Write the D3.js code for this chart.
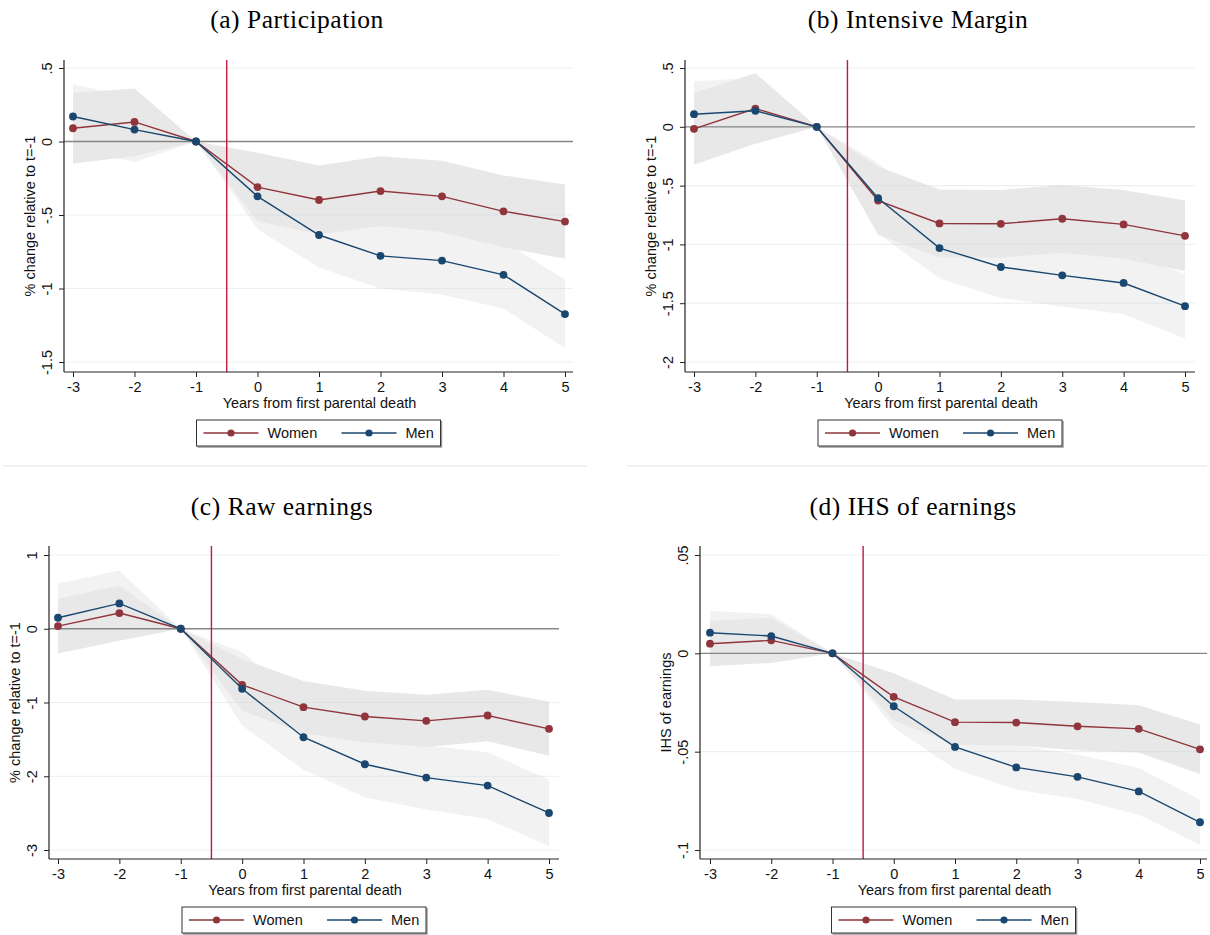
<!DOCTYPE html>
<meta charset="utf-8">
<style>
    body { margin: 0; background: #fff; }
    text { font-family: "Liberation Sans", Arial, sans-serif; fill: #111; }
    .title { font-family: "Liberation Serif", serif; font-size: 25.5px; letter-spacing: 0.5px; fill: #000; }
    .tick text { font-size: 14.5px; }
</style>
<svg width="1210" height="935"></svg>
<script src="https://d3js.org/d3.v7.min.js"></script>
<script>

    var years = [-3, -2, -1, 0, 1, 2, 3, 4, 5];

    // (a) Participation
    var partWomen   = [0.09, 0.133, 0, -0.31, -0.398, -0.337, -0.373, -0.475, -0.545];
    var partWomenLo = [-0.15, -0.10, 0, -0.543, -0.633, -0.574, -0.615, -0.719, -0.798];
    var partWomenHi = [0.33, 0.36, 0, -0.077, -0.163, -0.10, -0.131, -0.231, -0.292];
    var partMen     = [0.17, 0.081, 0, -0.373, -0.636, -0.778, -0.81, -0.907, -1.174];
    var partMenLo   = [-0.05, -0.14, 0, -0.597, -0.857, -1.0, -1.043, -1.136, -1.407];
    var partMenHi   = [0.39, 0.30, 0, -0.149, -0.415, -0.556, -0.577, -0.678, -0.941];
    var partTicks   = [0.5, 0, -0.5, -1, -1.5];

    // (b) Intensive margin
    var intWomen   = [-0.017, 0.155, 0, -0.627, -0.822, -0.825, -0.782, -0.83, -0.927];
    var intWomenLo = [-0.322, -0.145, 0, -0.917, -1.11, -1.113, -1.07, -1.123, -1.227];
    var intWomenHi = [0.288, 0.455, 0, -0.337, -0.534, -0.537, -0.494, -0.537, -0.627];
    var intMen     = [0.107, 0.136, 0, -0.607, -1.031, -1.192, -1.263, -1.328, -1.525];
    var intMenLo   = [-0.173, -0.144, 0, -0.907, -1.291, -1.455, -1.531, -1.593, -1.8];
    var intMenHi   = [0.387, 0.416, 0, -0.307, -0.771, -0.929, -0.995, -1.063, -1.25];
    var intTicks   = [0.5, 0, -0.5, -1, -1.5, -2];

    // (c) Raw earnings
    var rawWomen   = [0.036, 0.213, 0, -0.76, -1.063, -1.19, -1.249, -1.176, -1.357];
    var rawWomenLo = [-0.334, -0.162, 0, -1.11, -1.416, -1.538, -1.602, -1.524, -1.723];
    var rawWomenHi = [0.406, 0.588, 0, -0.41, -0.71, -0.842, -0.896, -0.828, -0.991];
    var rawMen     = [0.149, 0.344, 0, -0.814, -1.471, -1.837, -2.018, -2.127, -2.498];
    var rawMenLo   = [-0.317, -0.102, 0, -1.314, -1.911, -2.285, -2.452, -2.579, -2.95];
    var rawMenHi   = [0.615, 0.79, 0, -0.314, -1.031, -1.389, -1.584, -1.675, -2.046];
    var rawTicks   = [1, 0, -1, -2, -3];

    // (d) IHS of earnings
    var ihsWomen   = [0.0049, 0.0066, 0, -0.0221, -0.035, -0.0352, -0.0371, -0.0384, -0.0488];
    var ihsWomenLo = [-0.0066, -0.0049, 0, -0.0341, -0.0465, -0.0469, -0.0494, -0.0504, -0.0614];
    var ihsWomenHi = [0.0164, 0.0181, 0, -0.0101, -0.0235, -0.0235, -0.0248, -0.0264, -0.0362];
    var ihsMen     = [0.0105, 0.0088, 0, -0.0269, -0.0476, -0.058, -0.0628, -0.0702, -0.0859];
    var ihsMenLo   = [-0.0006, -0.0023, 0, -0.0379, -0.0588, -0.0694, -0.0741, -0.0821, -0.0974];
    var ihsMenHi   = [0.0216, 0.0199, 0, -0.0159, -0.0364, -0.0466, -0.0515, -0.0583, -0.0744];
    var ihsTicks   = [0.05, 0, -0.05, -0.1];

    var womenColor = "#90353b",
        menColor = "#1a476f";

    var svg = d3.select("svg");

    // Stata style: plain hyphen, no leading zero
    function fmt(v) {
        return v === 0 ? "0" : String(v).replace("0.", ".");
    }

    var panels = [
        {title: "(a)", name: "Participation", ytitle: "% change relative to t=-1",
         women: partWomen, womenLo: partWomenLo, womenHi: partWomenHi,
         men: partMen, menLo: partMenLo, menHi: partMenHi, ticks: partTicks,
         left: 64, right: 573, top: 60, bottom: 372, x0: 73, x1: 565, y0: 362, y1: 68, titleX: 297, titleY: 28},
        {title: "(b)", name: "Intensive Margin", ytitle: "% change relative to t=-1",
         women: intWomen, womenLo: intWomenLo, womenHi: intWomenHi,
         men: intMen, menLo: intMenLo, menHi: intMenHi, ticks: intTicks,
         left: 685, right: 1195, top: 60, bottom: 372, x0: 694, x1: 1185, y0: 362, y1: 68, titleX: 918, titleY: 28},
        {title: "(c)", name: "Raw earnings", ytitle: "% change relative to t=-1",
         women: rawWomen, womenLo: rawWomenLo, womenHi: rawWomenHi,
         men: rawMen, menLo: rawMenLo, menHi: rawMenHi, ticks: rawTicks,
         left: 49, right: 559, top: 546, bottom: 859, x0: 58, x1: 549, y0: 850, y1: 555, titleX: 282, titleY: 515},
        {title: "(d)", name: "IHS of earnings", ytitle: "IHS of earnings",
         women: ihsWomen, womenLo: ihsWomenLo, womenHi: ihsWomenHi,
         men: ihsMen, menLo: ihsMenLo, menHi: ihsMenHi, ticks: ihsTicks,
         left: 700, right: 1207, top: 546, bottom: 859, x0: 710, x1: 1200, y0: 850, y1: 555, titleX: 913, titleY: 515}
    ];

    // faint separators between the rows
    svg.append("line").attr("x1", 3).attr("x2", 587).attr("y1", 466).attr("y2", 466)
        .attr("stroke", "#ececec").attr("stroke-width", 1.5);
    svg.append("line").attr("x1", 627).attr("x2", 1207).attr("y1", 466).attr("y2", 466)
        .attr("stroke", "#ececec").attr("stroke-width", 1.5);

    panels.forEach(function (p) {
        var g = svg.append("g");

        var x = d3.scaleLinear().domain([-3, 5]).range([p.x0, p.x1]);
        var y = d3.scaleLinear()
            .domain([d3.min(p.ticks), d3.max(p.ticks)])
            .range([p.y0, p.y1]);

        // title
        var t = g.append("text").attr("class", "title")
            .attr("x", p.titleX).attr("y", p.titleY)
            .attr("text-anchor", "middle");
        t.append("tspan").text(p.title);
        t.append("tspan").attr("dx", 7).text(p.name);

        // bands
        var area = function (lo, hi) {
            return d3.area()
                .x(function (d, i) { return x(years[i]); })
                .y0(function (d, i) { return y(lo[i]); })
                .y1(function (d, i) { return y(hi[i]); })(years);
        };
        g.append("path").attr("d", area(p.menLo, p.menHi)).attr("fill", "#f2f2f2");
        g.append("path").attr("d", area(p.womenLo, p.womenHi)).attr("fill", "#e8e8e8");

        // grid
        g.append("g").selectAll("line")
            .data(p.ticks.filter(function (v) { return v !== 0; }))
            .enter().append("line")
            .attr("x1", p.left).attr("x2", p.right)
            .attr("y1", function (d) { return y(d); })
            .attr("y2", function (d) { return y(d); })
            .attr("stroke", "rgba(200,220,226,0.42)")
            .attr("stroke-width", 1.2);

        // zero line
        g.append("line")
            .attr("x1", p.left).attr("x2", p.right)
            .attr("y1", y(0)).attr("y2", y(0))
            .attr("stroke", "#858585").attr("stroke-width", 1.3);

        // event line
        g.append("line")
            .attr("x1", x(-0.5)).attr("x2", x(-0.5))
            .attr("y1", p.top).attr("y2", p.bottom)
            .attr("stroke", "#c3183f").attr("stroke-width", 1.4);

        // series
        var line = d3.line()
            .x(function (d, i) { return x(years[i]); })
            .y(function (d) { return y(d); });

        [[p.women, womenColor], [p.men, menColor]].forEach(function (s) {
            g.append("path").attr("d", line(s[0]))
                .attr("fill", "none").attr("stroke", s[1]).attr("stroke-width", 1.4);
            g.append("g").selectAll("circle")
                .data(s[0]).enter().append("circle")
                .attr("cx", function (d, i) { return x(years[i]); })
                .attr("cy", function (d) { return y(d); })
                .attr("r", 3.9)
                .attr("fill", s[1]);
        });

        // axes
        var xa = g.append("g")
            .attr("transform", "translate(0," + p.bottom + ")")
            .call(d3.axisBottom(x).tickValues(years).tickSize(5).tickPadding(5).tickFormat(fmt));
        xa.select(".domain").remove();
        xa.selectAll(".tick line").attr("stroke", "#222");
        xa.selectAll("text").style("font-family", "'Liberation Sans', Arial, sans-serif");

        var ya = g.append("g")
            .attr("transform", "translate(" + p.left + ",0)")
            .call(d3.axisLeft(y).tickValues(p.ticks).tickSize(5).tickFormat(fmt));
        ya.select(".domain").remove();
        ya.selectAll(".tick line").attr("stroke", "#222");
        ya.selectAll("text")
            .attr("x", null).attr("dy", null)
            .attr("text-anchor", "middle")
            .attr("transform", "translate(-12,0) rotate(-90)")
            .style("font-family", "'Liberation Sans', Arial, sans-serif");

        g.append("line").attr("x1", p.left).attr("x2", p.right)
            .attr("y1", p.bottom).attr("y2", p.bottom)
            .attr("stroke", "#222").attr("stroke-width", 1.2);
        g.append("line").attr("x1", p.left).attr("x2", p.left)
            .attr("y1", p.top).attr("y2", p.bottom)
            .attr("stroke", "#222").attr("stroke-width", 1.2);

        // axis titles
        g.append("text")
            .attr("x", (p.left + p.right) / 2 + 1)
            .attr("y", p.bottom + 36)
            .attr("text-anchor", "middle")
            .attr("font-size", "14.5px")
            .text("Years from first parental death");

        g.append("text")
            .attr("transform", "translate(" + (p.left - 29) + "," + ((p.top + p.bottom) / 2) + ") rotate(-90)")
            .attr("text-anchor", "middle")
            .attr("font-size", "14.5px")
            .text(p.ytitle);

        // legend
        var lx = (p.left + p.right) / 2 - 122,
            ly = p.bottom + 48;
        var lg = g.append("g").attr("transform", "translate(" + lx + "," + ly + ")");
        lg.append("path").attr("d", "M1,27 H245 V1")
            .attr("fill", "none").attr("stroke", "#999").attr("stroke-width", 1.5);
        lg.append("rect").attr("width", 244).attr("height", 26)
            .attr("fill", "#fff").attr("stroke", "#333").attr("stroke-width", 1);

        [["Women", womenColor, 7], ["Men", menColor, 145]].forEach(function (it) {
            lg.append("line").attr("x1", it[2]).attr("x2", it[2] + 55)
                .attr("y1", 13).attr("y2", 13)
                .attr("stroke", it[1]).attr("stroke-width", 1.3);
            lg.append("circle").attr("cx", it[2] + 27.5).attr("cy", 13).attr("r", 3.6)
                .attr("fill", it[1]);
            lg.append("text").attr("x", it[2] + 64).attr("y", 18)
                .attr("font-size", "14.5px").text(it[0]);
        });
    });

</script>
